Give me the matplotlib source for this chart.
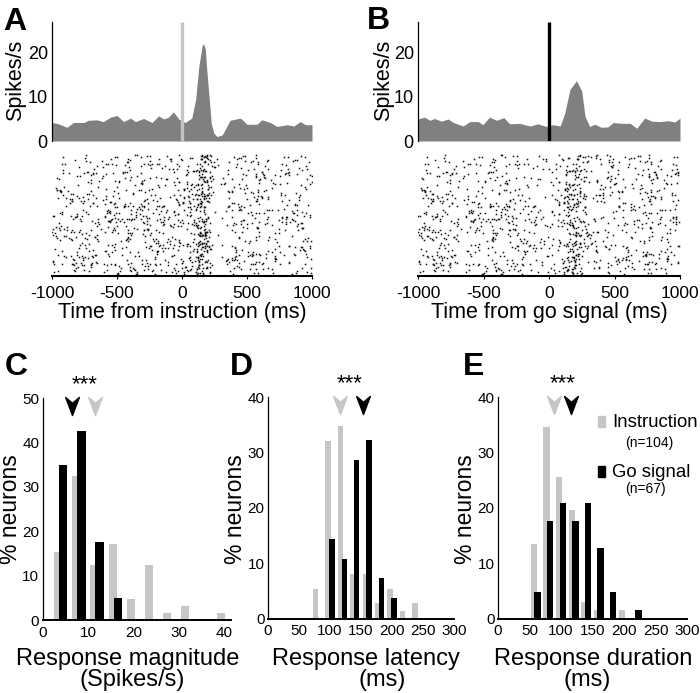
import numpy as np
import matplotlib
matplotlib.use("Agg")
import matplotlib.pyplot as plt
from matplotlib.path import Path
from matplotlib.patches import Rectangle

plt.rcParams['font.family'] = ['Liberation Sans', 'DejaVu Sans']
plt.rcParams['axes.unicode_minus'] = False

# PSTH, panel A (aligned on instruction)
t_instr = [-1000, -950, -885, -835, -755, -720, -655, -605, -550, -500, -450, -395,
           -360, -295, -230, -180, -140, -105, -65, -25, 25, 75, 105, 130, 155, 165,
           180, 190, 210, 225, 245, 270, 310, 370, 450, 500, 575, 615, 680, 730,
           810, 860, 910, 950, 1000]
rate_instr = [4.2, 3.9, 3.1, 4.2, 4.2, 4.7, 4.8, 4.4, 5.4, 5.8, 4.4, 5.2,
              4.4, 5.1, 4.2, 5.7, 5.0, 5.4, 6.6, 5.0, 4.2, 5.2, 9.4, 17.0, 21.6, 22.1,
              20.8, 16.3, 9.4, 4.0, 1.8, 1.0, 1.4, 4.7, 5.2, 3.8, 3.8, 4.8, 4.2, 3.3,
              3.7, 3.4, 4.4, 3.7, 3.7]

# PSTH, panel B (aligned on go signal)
t_go = [-1000, -950, -910, -875, -820, -770, -730, -655, -605, -540, -505, -455,
        -400, -345, -300, -225, -145, -85, -20, 30, 85, 120, 160, 210, 250, 275,
        310, 350, 400, 450, 490, 555, 620, 670, 730, 785, 845, 910, 960, 1000]
rate_go = [5.0, 5.4, 4.7, 5.1, 4.5, 5.0, 4.2, 3.4, 4.4, 4.4, 3.7, 5.4,
           4.7, 5.3, 3.9, 4.0, 3.4, 3.9, 3.3, 3.7, 3.4, 6.3, 11.7, 13.7, 11.3, 5.6,
           3.3, 3.8, 3.1, 3.2, 4.2, 4.0, 4.0, 2.9, 5.2, 4.5, 4.4, 4.6, 4.3, 5.2]

n_trials_instr = 115
n_trials_go = 115

# population histograms (% neurons)
mag_bins = [4, 8, 12, 16, 20, 24, 28, 32, 36, 40]
mag_instr = [15.4, 32.5, 12.4, 17.1, 4.7, 12.4, 1.6, 3.2, 0, 1.6]
mag_go = [35.0, 42.6, 17.5, 5.0, 0, 0, 0, 0, 0, 0]

lat_bins = [80, 100, 120, 140, 160, 180, 200, 220, 240]
lat_instr = [5.4, 32.1, 34.8, 8.1, 8.1, 2.8, 5.4, 1.45, 2.8]
lat_go = [0, 14.4, 10.8, 28.7, 32.3, 7.3, 3.7, 0, 0]

dur_bins = [60, 80, 100, 120, 140, 160, 180, 200, 220]
dur_instr = [13.5, 34.5, 25.5, 19.6, 3.0, 1.55, 0, 1.55, 0]
dur_go = [4.9, 17.6, 20.8, 17.6, 20.8, 12.8, 4.9, 0, 1.6]

# medians (arrowheads): instruction, go signal
mag_med = [11.6, 6.5]
lat_med = [116.6, 153.0]
dur_med = [88.4, 116.0]

GRAY = '#c6c6c6'
FILL = '#808080'
W, H = 700, 693
fig = plt.figure(figsize=(W / 100, H / 100), dpi=100)


def add_ax(l, t, r, b):
    return fig.add_axes([l / W, 1 - b / H, (r - l) / W, (b - t) / H])


def frac_hash(a, b):
    return (np.sin(a * 12.9898 + b * 78.233) * 43758.5453) % 1.0


def raster(t, rate, n):
    # spike texture derived from the PSTH rate (time rescaling, deterministic hash)
    grid = np.arange(-1000, 1001, 1.0)
    r = np.interp(grid, t, rate)
    cum = np.cumsum(r) / 1000.0
    xs, ys = [], []
    for i in range(n):
        k = 0
        level = -np.log(1 - 0.999 * frac_hash(i, 0.5))
        while level < cum[-1]:
            xs.append(grid[np.searchsorted(cum, level)])
            ys.append(i)
            k += 1
            level += -np.log(1 - 0.999 * frac_hash(i + 0.37, k))
    return xs, ys


def psth_panel(l, r, t, rate, n, line_color, xlabel):
    ax = add_ax(l, 22, r, 141)
    ax.fill_between(t, rate, 0, color=FILL, lw=0)
    ax.plot([0, 0], [0, 27], color=line_color, lw=2.4, solid_capstyle='butt')
    ax.set_xlim(-1000, 1000)
    ax.set_ylim(0, 27)
    ax.set_yticks([0, 10, 20])
    ax.set_xticks([])
    for s in ['top', 'right', 'bottom']:
        ax.spines[s].set_visible(False)
    ax.spines['left'].set_linewidth(0.9)
    ax.tick_params(axis='y', length=0, pad=3, labelsize=13)

    ar = add_ax(l, 152, r, 276)
    xs, ys = raster(t, rate, n)
    ar.plot(xs, ys, ls='none', marker='s', ms=1.1, mew=0, color='#111111')
    ar.set_xlim(-1000, 1000)
    ar.set_ylim(n + 0.5, -3)
    ar.set_yticks([])
    ar.set_xticks([-1000, -500, 0, 500, 1000])
    for s in ['top', 'right', 'left']:
        ar.spines[s].set_visible(False)
    ar.spines['bottom'].set_linewidth(1.5)
    ar.tick_params(axis='x', length=2, width=0.8, pad=5, labelsize=12.5)
    ar.set_xlabel(xlabel, fontsize=15.5, labelpad=1)
    return ax


psth_panel(52, 312, t_instr, rate_instr, n_trials_instr, '#c4c4c4', 'Time from instruction (ms)')
psth_panel(418, 680, t_go, rate_go, n_trials_go, 'black', 'Time from go signal (ms)')
fig.text(16 / W, 1 - 80 / H, 'Spikes/s', rotation=90, ha='center', va='center', fontsize=15.5)
fig.text(384 / W, 1 - 80 / H, 'Spikes/s', rotation=90, ha='center', va='center', fontsize=15.5)

arrow = Path([(-0.38, 0.5), (0, -0.5), (0.38, 0.5), (0, 0.18), (-0.38, 0.5)],
             [Path.MOVETO, Path.LINETO, Path.LINETO, Path.LINETO, Path.CLOSEPOLY])


def hist_panel(box, centers, instr, go, width, sep, xlim, ylim, yticks, xticks, med, star_x):
    ax = add_ax(*box)
    c = np.array(centers, float)
    ax.bar(c - sep / 2, instr, width=width, color=GRAY, lw=0, zorder=2)
    ax.bar(c + sep / 2, go, width=width, color='black', lw=0, zorder=3)
    ax.set_xlim(*xlim)
    ax.set_ylim(*ylim)
    ax.set_yticks(yticks)
    ax.set_xticks(xticks)
    for s in ['top', 'right']:
        ax.spines[s].set_visible(False)
    ax.spines['left'].set_linewidth(0.9)
    ax.spines['bottom'].set_linewidth(1.4)
    ax.tick_params(length=0, labelsize=11)
    ax.tick_params(axis='y', pad=2.5)
    ax.tick_params(axis='x', pad=4)
    tr = ax.get_xaxis_transform()
    ax.plot([med[0]], [0.962], transform=tr, marker=arrow, ms=13, color=GRAY,
            ls='none', clip_on=False)
    ax.plot([med[1]], [0.962], transform=tr, marker=arrow, ms=13, color='black',
            ls='none', clip_on=False)
    ax.text(star_x, 1.062, '***', transform=tr, ha='center', va='center', fontsize=16)
    return ax


hist_panel((42.7, 398, 230.7, 620), mag_bins, mag_instr, mag_go, 1.8, 1.1,
           (0, 41.5), (0, 50), [0, 10, 20, 30, 40, 50], [0, 10, 20, 30, 40], mag_med, 9.2)
hist_panel((268, 397, 454, 618.7), lat_bins, lat_instr, lat_go, 8.6, 6,
           (0, 300), (0, 40), [0, 10, 20, 30, 40], [0, 50, 100, 150, 200, 250, 300], lat_med, 132)
hist_panel((498, 397, 687, 618.7), dur_bins, dur_instr, dur_go, 10.3, 5.8,
           (0, 300), (0, 40), [0, 10, 20, 30, 40], [0, 50, 100, 150, 200, 250, 300], dur_med, 103)

for x, l1, l2, x2 in [(128, 'Response magnitude', '(Spikes/s)', 132),
                      (366, 'Response latency', '(ms)', 382),
                      (593, 'Response duration', '(ms)', 587)]:
    fig.text(x / W, 1 - 665 / H, l1, ha='center', va='baseline', fontsize=17)
    fig.text(x2 / W, 1 - 686 / H, l2, ha='center', va='baseline', fontsize=17)

for x in [11, 236, 465.5]:
    fig.text(x / W, 1 - 509 / H, '% neurons', rotation=90, ha='center', va='center', fontsize=16.5)

# legend in panel E
fig.patches.append(Rectangle((598 / W, 1 - 427 / H), 7 / W, 11 / H, color=GRAY,
                             transform=fig.transFigure, figure=fig))
fig.patches.append(Rectangle((598 / W, 1 - 477 / H), 7 / W, 11 / H, color='black',
                             transform=fig.transFigure, figure=fig))
fig.text(612 / W, 1 - 427 / H, 'Instruction', ha='left', va='baseline', fontsize=13.4)
fig.text(649.5 / W, 1 - 443 / H, '(n=104)', ha='center', va='center', fontsize=10)
fig.text(612 / W, 1 - 477 / H, 'Go signal', ha='left', va='baseline', fontsize=13.4)
fig.text(645.5 / W, 1 - 489 / H, '(n=67)', ha='center', va='center', fontsize=10)

for x, y, s in [(3, 30, 'A'), (367, 29, 'B'), (5, 375, 'C'), (230, 375, 'D'), (463, 375, 'E')]:
    fig.text(x / W, 1 - y / H, s, ha='left', va='baseline', fontsize=23, fontweight='bold')

fig.savefig('out.png', dpi=100)
